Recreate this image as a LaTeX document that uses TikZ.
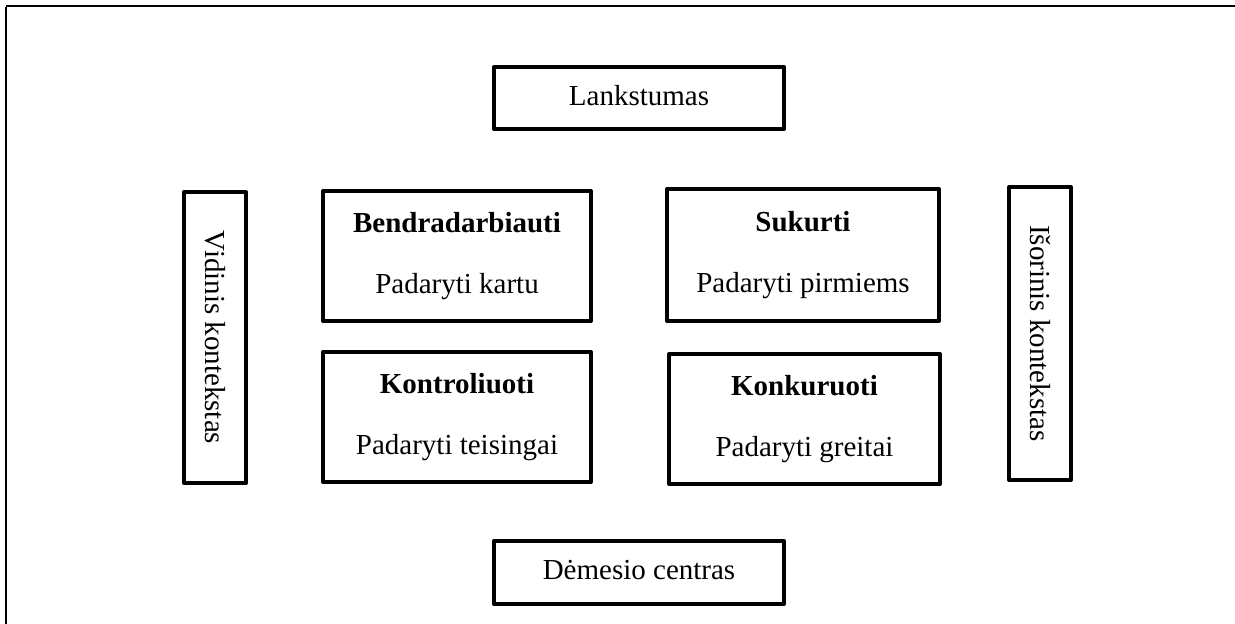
\documentclass[tikz,border=0pt]{standalone}
\usepackage{fontspec}
\usepackage{graphicx}
\setmainfont{Liberation Serif}
\begin{document}
\begin{tikzpicture}[x=1pt,y=-1pt,
  every node/.style={font=\fontsize{29}{35}\selectfont, inner sep=0pt},
  frameline/.style={line width=2pt},
  boxnode/.style={draw, line width=4pt, line join=round, align=center},
  onelinebox/.style={boxnode, text height=20pt, text depth=6pt}]
  \useasboundingbox (0,0) rectangle (1235,624);

  % outer frame: top and left edges only
  \coordinate (ftl) at (6,6);
  \coordinate (ftr) at (1235,6);
  \coordinate (flt) at (6,7);
  \coordinate (flb) at (6,624);
  \draw[frameline] (ftl) -- (ftr);
  \draw[frameline] (flt) -- (flb);

  % top and bottom labels
  \node[onelinebox, minimum width=290, minimum height=62] (lank) at (639,98) {Lankstumas};
  \node[onelinebox, minimum width=290, minimum height=63] (dem) at (639,572.5) {Dėmesio centras};

  % side contexts
  \node[boxnode, minimum width=62, minimum height=291] (vid) at (215,337.5)
    {\rotatebox{-90}{Vidinis kontekstas}};
  \node[boxnode, minimum width=62, minimum height=293] (isor) at (1040,333.5)
    {\rotatebox{-90}{Išorinis kontekstas}};

  % the four quadrants
  \node[boxnode, minimum width=268, minimum height=130] (bend) at (457,256)
    {\textbf{Bendradarbiauti}\\[26pt]Padaryti kartu};
  \node[boxnode, minimum width=272, minimum height=132] (suk) at (803,255)
    {\textbf{Sukurti}\\[26pt]Padaryti pirmiems};
  \node[boxnode, minimum width=268, minimum height=130] (kontr) at (457,417)
    {\textbf{Kontroliuoti}\\[26pt]Padaryti teisingai};
  \node[boxnode, minimum width=271, minimum height=130] (konk) at (804.5,419)
    {\textbf{Konkuruoti}\\[26pt]Padaryti greitai};
\end{tikzpicture}
\end{document}
